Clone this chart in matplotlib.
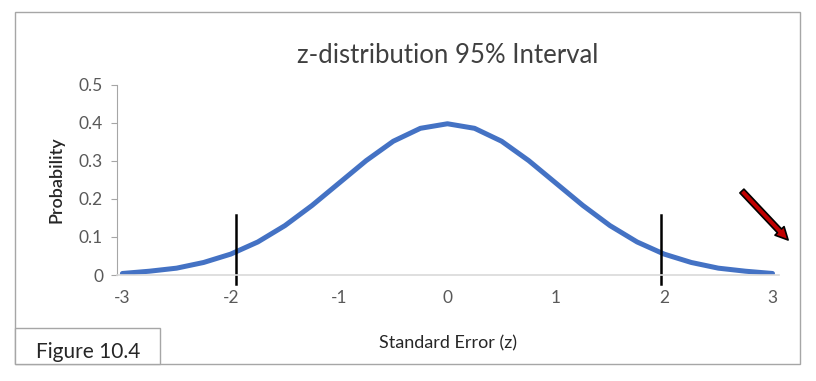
import numpy as np
import matplotlib
matplotlib.use("Agg")
import matplotlib.pyplot as plt
from matplotlib.patches import Rectangle

plt.rcParams["axes.unicode_minus"] = False

# z values and read-off probabilities
z_vals = [-3.0, -2.75, -2.5, -2.25, -2.0, -1.75, -1.5, -1.25, -1.0, -0.75, -0.5, -0.25,
          0.0, 0.25, 0.5, 0.75, 1.0, 1.25, 1.5, 1.75, 2.0, 2.25, 2.5, 2.75, 3.0]
prob = [0.004, 0.010, 0.018, 0.033, 0.055, 0.087, 0.130, 0.183, 0.242, 0.301, 0.352, 0.386,
        0.398, 0.386, 0.352, 0.301, 0.242, 0.183, 0.130, 0.087, 0.055, 0.033, 0.018, 0.010, 0.004]
crit_z = [-1.95, 1.97]
x_ticks = [-3, -2, -1, 0, 1, 2, 3]
y_ticks = [0, 0.1, 0.2, 0.3, 0.4, 0.5]

FONT = "Lato"
GREY = "#595959"

fig = plt.figure(figsize=(8.16, 3.81), dpi=100)
W, H = 816, 381

# outer frame
fig.patches.append(Rectangle((15 / W, 1 - 364 / H), 785 / W, 352 / H,
                             transform=fig.transFigure, fill=False,
                             edgecolor="#a6a6a6", linewidth=1))
# caption box
fig.patches.append(Rectangle((15 / W, 1 - 364 / H), 145 / W, 36 / H,
                             transform=fig.transFigure, facecolor="white",
                             edgecolor="#a6a6a6", linewidth=1))
fig.text(36 / W, 1 - 352 / H, "Figure 10.4", fontsize=15, family=FONT,
         color="#262626", va="center", ha="left")

ax = fig.add_axes([117 / W, 1 - 275 / H, 662 / W, 190 / H])
ax.plot(z_vals, prob, color="#4472C4", lw=3.6, solid_capstyle="round",
        solid_joinstyle="round")
for zc in crit_z:
    ax.plot([zc, zc], [-0.023, 0.158], color="black", lw=1.8, clip_on=False)

ax.set_xlim(-3.05, 3.06)
ax.set_ylim(0, 0.5)
ax.set_xticks(x_ticks)
ax.set_yticks(y_ticks)
ax.set_yticklabels(["0", "0.1", "0.2", "0.3", "0.4", "0.5"])
for s in ["top", "right"]:
    ax.spines[s].set_visible(False)
ax.spines["left"].set_color("#a6a6a6")
ax.spines["bottom"].set_color("#d9d9d9")
ax.spines["bottom"].set_linewidth(1.2)
ax.tick_params(axis="y", direction="out", length=4, color="#a6a6a6",
               labelsize=12.5, labelcolor=GREY, pad=6)
ax.tick_params(axis="x", length=0, labelsize=12.5, labelcolor=GREY, pad=11)
for lab in ax.get_xticklabels() + ax.get_yticklabels():
    lab.set_family(FONT)

ax.set_title("z-distribution 95% Interval", fontsize=18.5, family=FONT,
             color="#404040", pad=16)
ax.set_xlabel("Standard Error (z)", fontsize=13, family=FONT, color="#262626",
              labelpad=21)
ax.set_ylabel("Probability", fontsize=13, family=FONT, color="#262626",
              labelpad=10, fontweight="semibold")

# red arrow pointing to the tail
ax.annotate("", xy=(790 / W, 1 - 242 / H), xytext=(740 / W, 1 - 189 / H),
            xycoords="figure fraction", textcoords="figure fraction",
            arrowprops=dict(arrowstyle="simple,head_length=0.9,head_width=0.9,tail_width=0.4",
                            facecolor="#c00000", edgecolor="black", lw=1.2))

fig.savefig("out.png", dpi=100)
